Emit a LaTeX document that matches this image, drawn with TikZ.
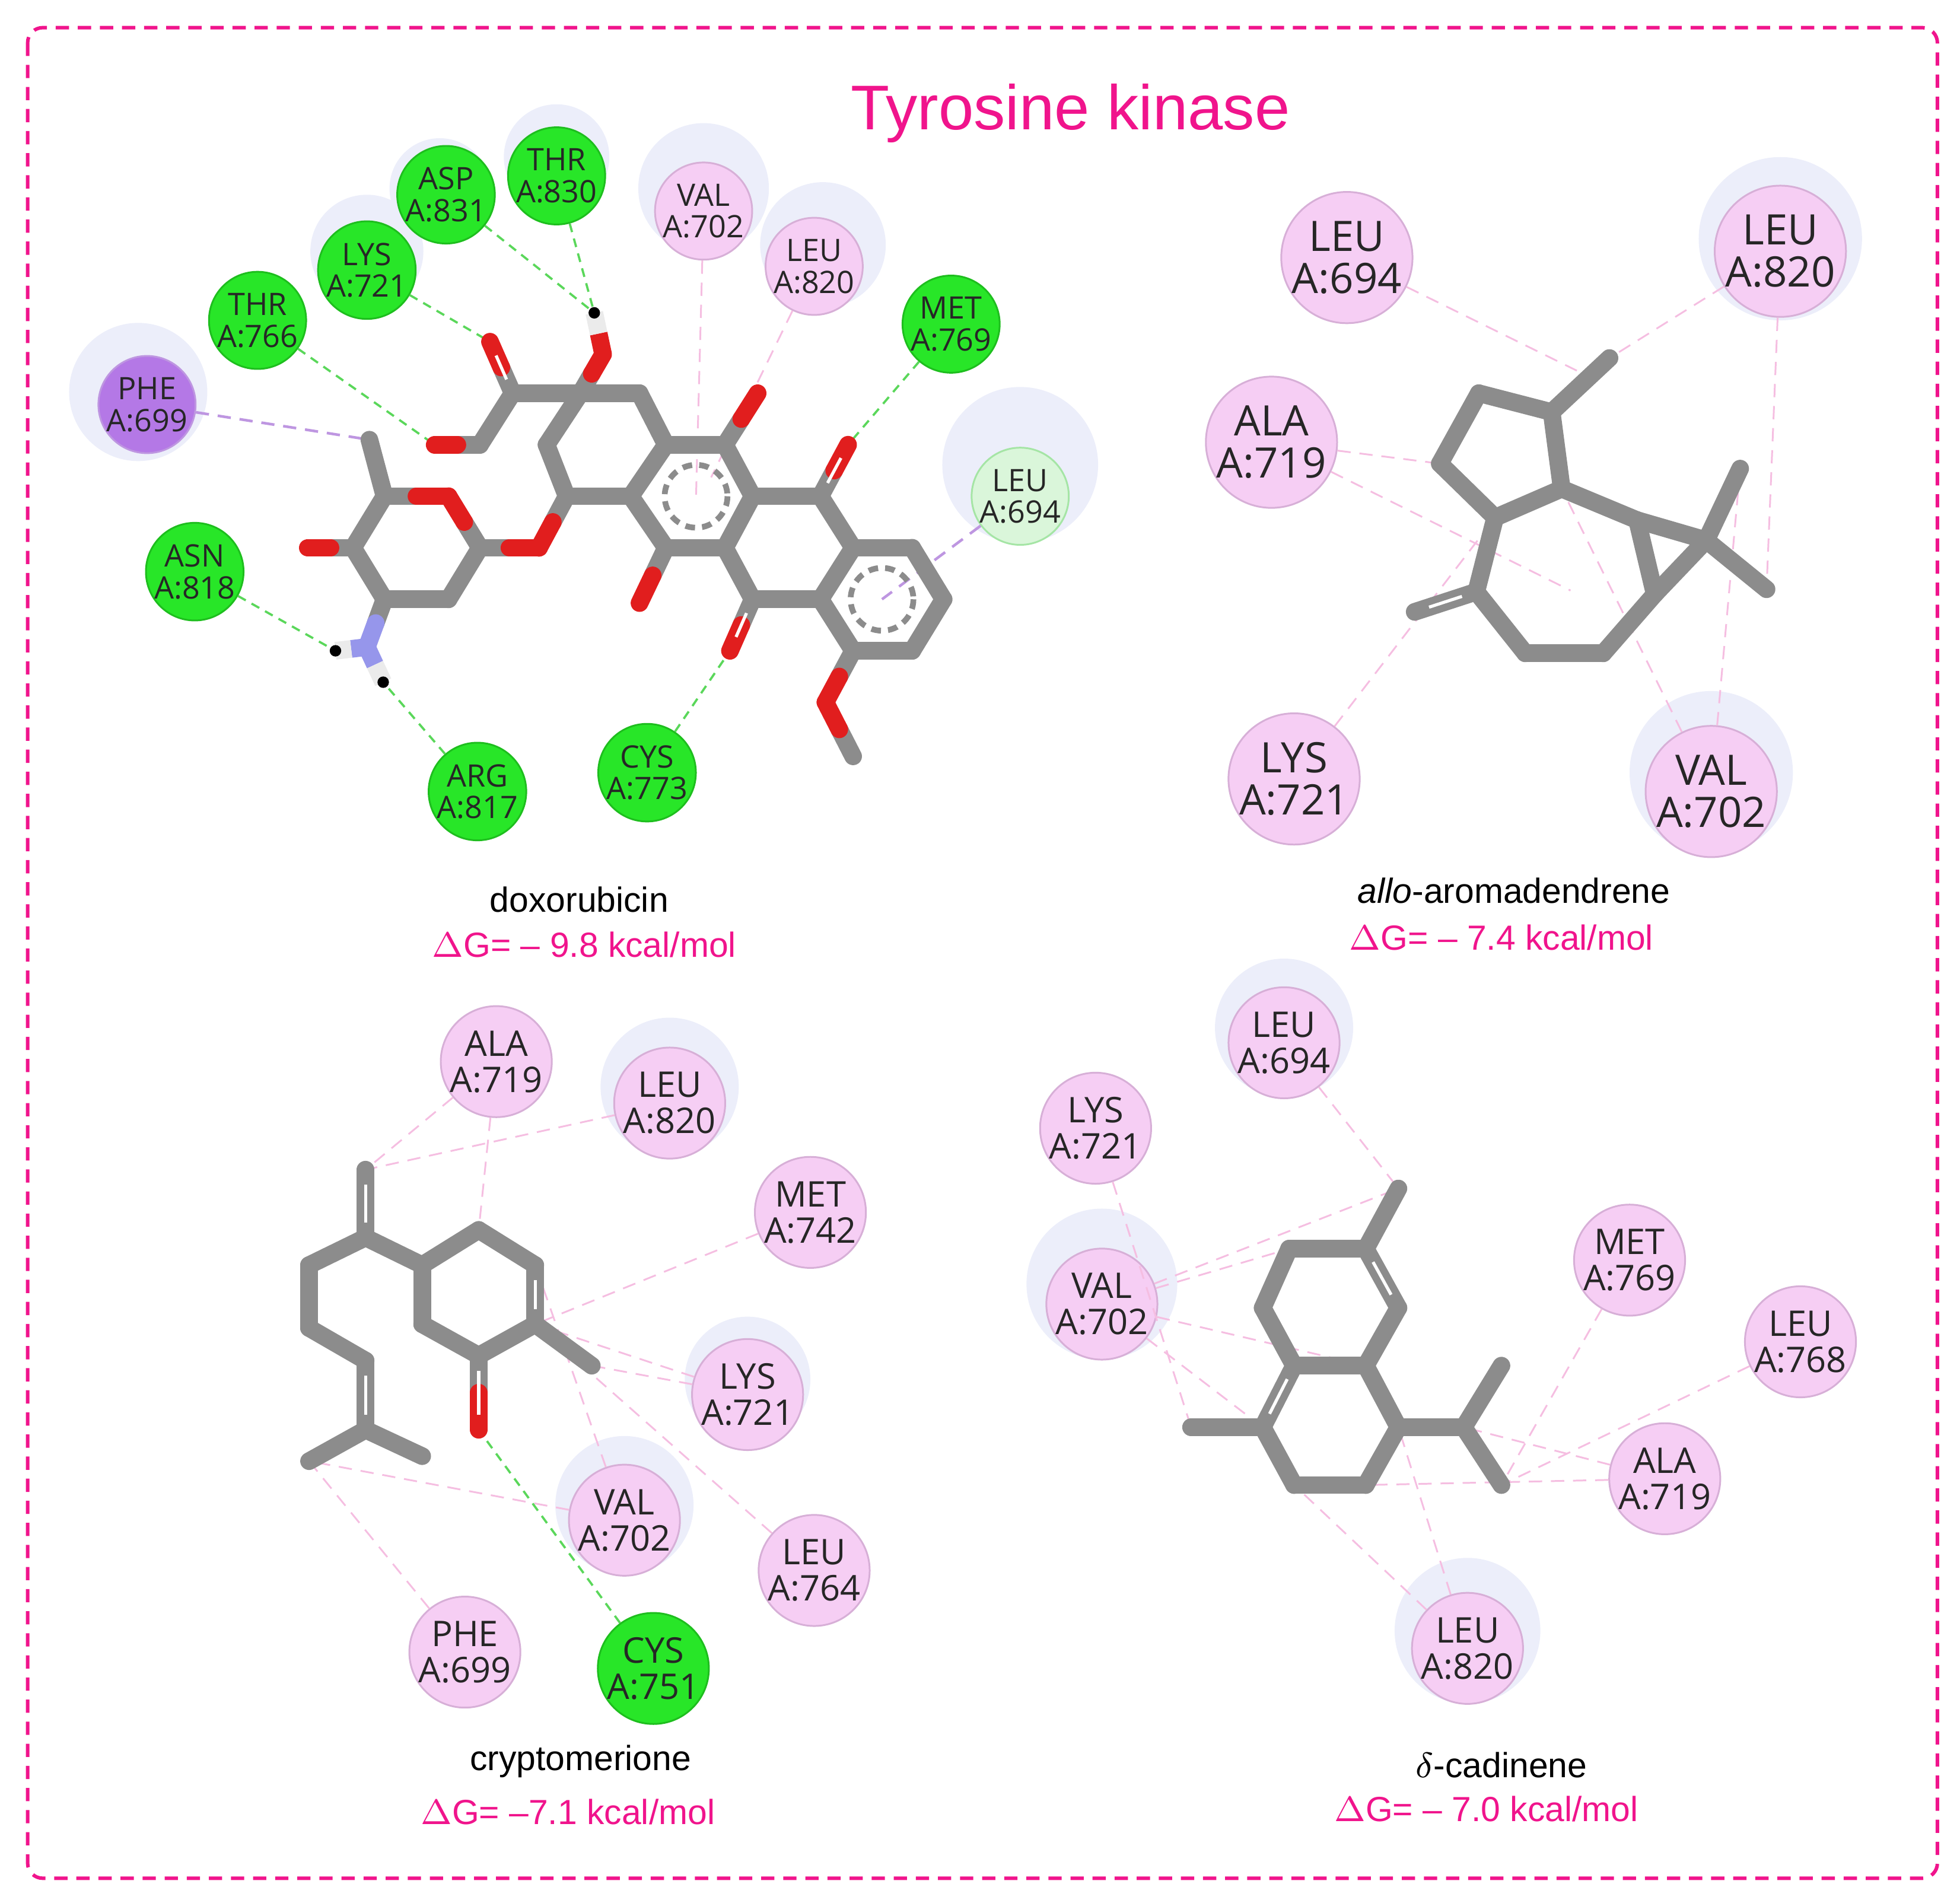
\documentclass[tikz,border=0pt]{standalone}
\usepackage{fontspec}
\setmainfont{Liberation Sans}
\newfontfamily\resf{Open Sans}
\usetikzlibrary{calc}
\definecolor{tk}{RGB}{240,20,140}
\definecolor{gb}{RGB}{140,140,140}
\definecolor{ored}{RGB}{225,30,30}
\definecolor{nblue}{RGB}{150,150,235}
\definecolor{gr}{RGB}{40,230,40}
\definecolor{grb}{RGB}{30,190,30}
\definecolor{rp}{RGB}{246,206,244}
\definecolor{rpb}{RGB}{215,175,215}
\definecolor{pu}{RGB}{180,120,230}
\definecolor{lg}{RGB}{218,246,218}
\definecolor{halo}{RGB}{236,238,250}
\definecolor{pl}{RGB}{245,190,225}
\definecolor{gl}{RGB}{90,215,90}
\definecolor{vl}{RGB}{190,150,225}
\tikzset{
 bond/.style={gb,line width=4pt,line cap=round},
 bondr/.style={ored,line width=4pt,line cap=round},
 res/.style={circle,inner sep=0pt,minimum size=0.76cm,align=center,text=black!85,
   font=\resf\fontsize{7}{7.2}\selectfont},
 rpink/.style={res,fill=rp,draw=rpb,line width=0.4pt},
 rgreen/.style={res,fill=gr,draw=grb,line width=0.4pt},
 big/.style={minimum size=0.94cm,font=\resf\fontsize{9.5}{9.5}\selectfont},
 mid/.style={minimum size=0.80cm,font=\resf\fontsize{8}{8.2}\selectfont},
 halo/.style={fill=halo,draw=none},
 hb/.style={gl,dashed,line width=0.5pt,dash pattern=on 2pt off 1.5pt},
 pk/.style={pl,dashed,line width=0.4pt,dash pattern=on 3pt off 2pt},
 vp/.style={vl,dashed,line width=0.6pt,dash pattern=on 3pt off 2pt},
 arom/.style={gb,line width=1.3pt,dash pattern=on 2.2pt off 1.6pt},
 lbl/.style={font=\fontsize{7.9}{9}\selectfont},
 dg/.style={font=\fontsize{7.9}{9}\selectfont,text=tk},
}
\newcommand\bd[2]{\draw[bond] (#1) -- (#2);}
\newcommand\bo[2]{\draw[bond] (#1) -- ($(#1)!0.5!(#2)$); \draw[bondr] ($(#1)!0.5!(#2)$) -- (#2);}
\newcommand\dbl[2]{\draw[bond] (#1) -- (#2); \draw[white,line width=0.7pt,shorten <=0.12cm,shorten >=0.12cm] (#1) -- (#2);}
\newcommand\dbo[2]{\bo{#1}{#2}\draw[white,line width=0.7pt,shorten <=0.12cm,shorten >=0.12cm] (#1) -- (#2);}
\begin{document}
\begin{tikzpicture}[x=0.01cm,y=-0.01cm]
\useasboundingbox (0,0) rectangle (1560,1512);
\draw[tk,line width=0.8pt,dash pattern=on 3pt off 2pt,rounded corners=0.12cm] (22,22) rectangle (1542,1495);
\node[text=tk,font=\fontsize{14.3}{16}\selectfont] (title) at (852,90) {Tyrosine kinase};

% ================= doxorubicin =================
\foreach \p/\r in {{110,312}/55,{292,200}/45,{443,125}/42,{560,150}/52,{655,195}/50,{812,370}/62,{350,150}/40}
  \fill[halo] (\p) circle (\r);
\coordinate (dme) at (294,350); \coordinate (s1) at (306,395); \coordinate (sO) at (357,395);
\coordinate (s2) at (382,436); \coordinate (s3) at (357,477); \coordinate (s4) at (306,477);
\coordinate (s5) at (281,436); \coordinate (sOH) at (245,436);
\coordinate (N) at (292,515); \coordinate (H1) at (267,518); \coordinate (H2) at (305,543);
\coordinate (lO) at (429,436);
\coordinate (d1) at (451,395); \coordinate (d2) at (435,354); \coordinate (d3) at (462,313);
\coordinate (d4) at (509,313); \coordinate (c1) at (530,354); \coordinate (c6) at (502,395);
\coordinate (c2) at (577,354); \coordinate (c3) at (599,395); \coordinate (c4) at (577,436);
\coordinate (c5) at (530,436);
\coordinate (b2) at (653,395); \coordinate (b3) at (679,436); \coordinate (b4) at (653,477);
\coordinate (b5) at (599,477);
\coordinate (a2) at (726,436); \coordinate (a3) at (751,477); \coordinate (a4) at (726,518);
\coordinate (a5) at (679,518);
\coordinate (Oc2) at (603,313); \coordinate (Ob2) at (675,354); \coordinate (Oc5) at (509,480);
\coordinate (Ob5) at (581,518); \coordinate (Om) at (657,559); \coordinate (Cm) at (679,602);
\coordinate (k1) at (408,313); \coordinate (kO) at (390,272); \coordinate (k2) at (382,354);
\coordinate (k3) at (346,354); \coordinate (hO) at (480,282); \coordinate (hH) at (473,249);
\node[res,fill=pu,draw=vl] (phe699) at (117,322) {PHE\\A:699};
\node[rgreen] (thr766) at (205,255) {THR\\A:766};
\node[rgreen] (lys721) at (292,215) {LYS\\A:721};
\node[rgreen] (asp831) at (355,155) {ASP\\A:831};
\node[rgreen] (thr830) at (443,140) {THR\\A:830};
\node[rpink] (val702) at (560,168) {VAL\\A:702};
\node[rpink] (leu820) at (648,212) {LEU\\A:820};
\node[rgreen] (met769) at (757,258) {MET\\A:769};
\node[res,fill=lg,draw=grb!40] (leu694) at (812,395) {LEU\\A:694};
\node[rgreen] (asn818) at (155,455) {ASN\\A:818};
\node[rgreen] (arg817) at (380,630) {ARG\\A:817};
\node[rgreen] (cys773) at (515,615) {CYS\\A:773};
\draw[hb] (thr766) -- (k3); \draw[hb] (lys721) -- (kO); \draw[hb] (asp831) -- (hH);
\draw[hb] (thr830) -- (hH); \draw[hb] (met769) -- (Ob2); \draw[hb] (asn818) -- (H1);
\draw[hb] (arg817) -- (H2); \draw[hb] (cys773) -- (Ob5);
\draw[pk] (val702) -- (554,395); \draw[pk] (leu820) -- (566,380);
\draw[vp] (leu694) -- (702,477); \draw[vp] (phe699) -- (dme);
\bd{dme}{s1} \bo{s1}{sO} \bo{s2}{sO} \bd{s2}{s3} \bd{s3}{s4} \bd{s4}{s5} \bd{s5}{s1}
\bo{s5}{sOH} \bo{s2}{lO} \bo{d1}{lO}
\draw[bond] (s4) -- ($(s4)!0.5!(N)$); \draw[nblue,line width=4pt,line cap=round] ($(s4)!0.5!(N)$) -- (N);
\foreach \h in {H1,H2}{\draw[nblue,line width=4pt] (N) -- ($(N)!0.5!(\h)$); \draw[white!92!black,line width=4pt] ($(N)!0.5!(\h)$) -- (\h); \fill[black] (\h) circle (1.3pt);}
\bd{d1}{d2} \bd{d2}{d3} \bd{d3}{d4} \bd{d4}{c1} \bd{c1}{c6} \bd{c6}{d1}
\bd{c1}{c2} \bd{c2}{c3} \bd{c3}{c4} \bd{c4}{c5} \bd{c5}{c6}
\bd{c3}{b2} \bd{b2}{b3} \bd{b3}{b4} \bd{b4}{b5} \bd{b5}{c4}
\bd{b3}{a2} \bd{a2}{a3} \bd{a3}{a4} \bd{a4}{a5} \bd{a5}{b4}
\bo{c2}{Oc2} \dbo{b2}{Ob2} \bo{c5}{Oc5} \dbo{b5}{Ob5} \bo{a5}{Om} \bo{Cm}{Om}
\bd{d3}{k1} \dbo{k1}{kO} \bd{k1}{k2} \bo{k2}{k3} \bo{d3}{hO}
\draw[ored,line width=4pt] (hO) -- ($(hO)!0.5!(hH)$); \draw[white!92!black,line width=4pt] ($(hO)!0.5!(hH)$) -- (hH); \fill[black] (hH) circle (1.3pt);
\draw[arom] (554,395) circle (25); \draw[arom] (702,477) circle (25);
\node[lbl] (n1) at (461,716) {doxorubicin};
\node[dg] (g1) at (465,752) {$\Delta$G= -- 9.8 kcal/mol};

% ================= allo-aromadendrene =================
\fill[halo] (1417,190) circle (65); \fill[halo] (1362,615) circle (65);
\coordinate (p1) at (1177,313); \coordinate (p2) at (1235,328); \coordinate (pm) at (1281,285);
\coordinate (p3) at (1146,369); \coordinate (p4) at (1190,412); \coordinate (p5) at (1243,389);
\coordinate (p6) at (1303,414); \coordinate (p7) at (1358,430); \coordinate (pm1) at (1385,373);
\coordinate (pm2) at (1406,469); \coordinate (p8) at (1317,473); \coordinate (p9) at (1276,520);
\coordinate (p10) at (1214,520); \coordinate (p11) at (1175,471); \coordinate (pc) at (1126,487);
\node[rpink,big] (aleu694) at (1072,205) {LEU\\A:694};
\node[rpink,big] (aleu820) at (1417,200) {LEU\\A:820};
\node[rpink,big] (aala719) at (1012,352) {ALA\\A:719};
\node[rpink,big] (alys721) at (1030,620) {LYS\\A:721};
\node[rpink,big] (aval702) at (1362,630) {VAL\\A:702};
\draw[pk] (aleu694) -- (1255,295); \draw[pk] (aleu820) -- (pm); \draw[pk] (aala719) -- (p3);
\draw[pk] (aala719) -- (1250,470); \draw[pk] (alys721) -- (p4); \draw[pk] (aval702) -- (pm1);
\draw[pk] (aval702) -- (p5); \draw[pk] (aleu820) -- (pm2);
\bd{p1}{p2} \bd{p2}{pm} \bd{p1}{p3} \bd{p3}{p4} \bd{p4}{p5} \bd{p5}{p2} \bd{p5}{p6}
\bd{p6}{p7} \bd{p6}{p8} \bd{p7}{p8} \bd{p7}{pm1} \bd{p7}{pm2} \bd{p8}{p9} \bd{p9}{p10}
\bd{p10}{p11} \bd{p11}{p4} \dbl{p11}{pc}
\node[lbl] (n2) at (1205,709) {\textit{allo}-aromadendrene};
\node[dg] (g2) at (1195,746) {$\Delta$G= -- 7.4 kcal/mol};

% ================= cryptomerione =================
\fill[halo] (533,865) circle (55); \fill[halo] (595,1098) circle (50); \fill[halo] (497,1198) circle (55);
\coordinate (q1) at (291,931); \coordinate (q2) at (291,985); \coordinate (q3) at (246,1007);
\coordinate (q4) at (246,1057); \coordinate (q5) at (291,1083); \coordinate (q6) at (291,1138);
\coordinate (q7) at (246,1163); \coordinate (q8) at (336,1159);
\coordinate (r1) at (336,1007); \coordinate (r2) at (381,979); \coordinate (r3) at (426,1007);
\coordinate (r4) at (426,1054); \coordinate (r5) at (381,1079); \coordinate (r6) at (336,1054);
\coordinate (rm) at (471,1087); \coordinate (rO) at (381,1138);
\node[rpink,mid] (cala719) at (395,845) {ALA\\A:719};
\node[rpink,mid] (cleu820) at (533,878) {LEU\\A:820};
\node[rpink,mid] (cmet742) at (645,965) {MET\\A:742};
\node[rpink,mid] (clys721) at (595,1110) {LYS\\A:721};
\node[rpink,mid] (cval702) at (497,1210) {VAL\\A:702};
\node[rpink,mid] (cleu764) at (648,1250) {LEU\\A:764};
\node[rpink,mid] (cphe699) at (370,1315) {PHE\\A:699};
\node[rgreen,mid] (ccys751) at (520,1328) {CYS\\A:751};
\draw[pk] (cala719) -- (q1); \draw[pk] (cala719) -- (r2); \draw[pk] (cleu820) -- (q1);
\draw[pk] (cmet742) -- (r4); \draw[pk] (clys721) -- (r4); \draw[pk] (clys721) -- (rm);
\draw[pk] (cval702) -- (q7); \draw[pk] (cleu764) -- (r4); \draw[pk] (cphe699) -- (q7);
\draw[pk] (cval702) -- (r3);
\draw[hb] (ccys751) -- (rO);
\dbl{q1}{q2} \bd{q2}{q3} \bd{q3}{q4} \bd{q4}{q5} \dbl{q5}{q6} \bd{q6}{q7} \bd{q6}{q8}
\bd{q2}{r1} \bd{r1}{r2} \bd{r2}{r3} \dbl{r3}{r4} \bd{r4}{r5} \bd{r5}{r6} \bd{r6}{r1}
\bd{r4}{rm} \dbo{r5}{rO}
\node[lbl] (n3) at (462,1402) {cryptomerione};
\node[dg] (g3) at (452,1442) {$\Delta$G= --7.1 kcal/mol};

% ================= delta-cadinene =================
\fill[halo] (1022,818) circle (55); \fill[halo] (877,1022) circle (60); \fill[halo] (1168,1298) circle (58);
\coordinate (t0) at (1113,946); \coordinate (t1) at (1087,994); \coordinate (t2) at (1026,994);
\coordinate (t3) at (1005,1041); \coordinate (t4) at (1030,1087); \coordinate (t5) at (1087,1087);
\coordinate (t6) at (1113,1041); \coordinate (u1) at (1005,1136); \coordinate (um) at (948,1136);
\coordinate (u2) at (1030,1182); \coordinate (u3) at (1087,1182); \coordinate (u4) at (1113,1136);
\coordinate (ui) at (1165,1136); \coordinate (ui1) at (1195,1087); \coordinate (ui2) at (1195,1182);
\node[rpink,mid] (dleu694) at (1022,830) {LEU\\A:694};
\node[rpink,mid] (dlys721) at (872,898) {LYS\\A:721};
\node[rpink,mid] (dval702) at (877,1038) {VAL\\A:702};
\node[rpink,mid] (dmet769) at (1297,1003) {MET\\A:769};
\node[rpink,mid] (dleu768) at (1433,1068) {LEU\\A:768};
\node[rpink,mid] (dala719) at (1325,1177) {ALA\\A:719};
\node[rpink,mid] (dleu820) at (1168,1312) {LEU\\A:820};
\draw[pk] (dleu694) -- (t0); \draw[pk] (dval702) -- (t0); \draw[pk] (dval702) -- (t2);
\draw[pk] (dval702) -- (u1); \draw[pk] (dval702) -- (t5); \draw[pk] (dlys721) -- (um);
\draw[pk] (dmet769) -- (ui2); \draw[pk] (dleu768) -- (ui2); \draw[pk] (dala719) -- (ui);
\draw[pk] (dala719) -- (u3); \draw[pk] (dleu820) -- (u4); \draw[pk] (dleu820) -- (u2);
\bd{t0}{t1} \bd{t1}{t2} \bd{t2}{t3} \bd{t3}{t4} \bd{t4}{t5} \bd{t5}{t6} \dbl{t6}{t1}
\dbl{t4}{u1} \bd{u1}{um} \bd{u1}{u2} \bd{u2}{u3} \bd{u3}{u4} \bd{u4}{t5} \bd{u4}{ui}
\bd{ui}{ui1} \bd{ui}{ui2}
\node[lbl] (n4) at (1195,1405) {$\delta$-cadinene};
\node[dg] (g4) at (1183,1440) {$\Delta$G= -- 7.0 kcal/mol};
\end{tikzpicture}
\end{document}
